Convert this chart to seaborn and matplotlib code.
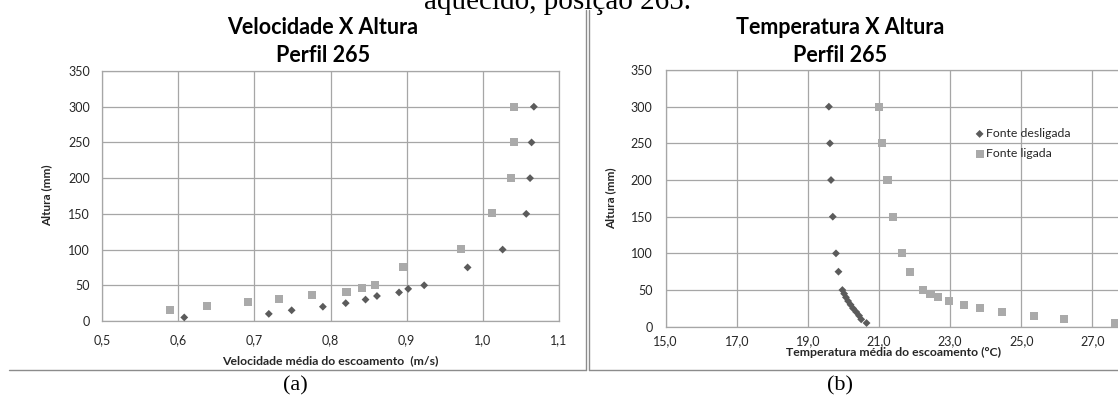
import matplotlib
matplotlib.use("Agg")
import matplotlib.pyplot as plt
import seaborn as sns
import pandas as pd
from matplotlib.lines import Line2D

# ---------------- data ----------------
alturas = [5, 10, 15, 20, 25, 30, 35, 40, 45, 50, 75, 100, 150, 200, 250, 300]
vel_desligada = [0.608, 0.719, 0.749, 0.790, 0.820, 0.846, 0.861, 0.890, 0.902,
                 0.923, 0.980, 1.026, 1.057, 1.062, 1.064, 1.067]
alturas_vel_ligada = [16, 21, 26, 31, 36, 41, 46, 51, 75, 101, 151, 200, 250, 300]
vel_ligada = [0.589, 0.638, 0.692, 0.732, 0.776, 0.821, 0.841, 0.858, 0.895,
              0.971, 1.012, 1.037, 1.041, 1.041]

temp_desligada = [20.65, 20.50, 20.44, 20.36, 20.27, 20.20, 20.13, 20.07, 20.02,
                  19.97, 19.86, 19.79, 19.70, 19.65, 19.62, 19.59]
temp_ligada = [27.64, 26.21, 25.35, 24.45, 23.84, 23.39, 22.97, 22.67, 22.45,
               22.23, 21.87, 21.65, 21.40, 21.24, 21.09, 21.01]

series = ["Fonte desligada", "Fonte ligada"]
vel_ticks = [0.5, 0.6, 0.7, 0.8, 0.9, 1.0, 1.1]
vel_ticklabels = ["0,5", "0,6", "0,7", "0,8", "0,9", "1,0", "1,1"]
temp_ticks = [15, 17, 19, 21, 23, 25, 27, 29]
temp_ticklabels = ["15,0", "17,0", "19,0", "21,0", "23,0", "25,0", "27,0", "29,0"]
alt_ticks = [0, 50, 100, 150, 200, 250, 300, 350]

# ---------------- style ----------------
sns.set_style("white")
plt.rcParams["font.family"] = ["Lato", "DejaVu Sans"]

W, H = 1118, 403
fig = plt.figure(figsize=(W / 100, H / 100), dpi=100)

def fx(x):
    return x / W

def fy(y):
    return 1 - y / H

DARK = "#5b5b5b"
LIGHT = "#aaaaaa"
GRID = "#a6a6a6"
TXT = "#262626"
SERIF = ["Liberation Serif", "DejaVu Serif"]

ax1 = fig.add_axes([fx(102), fy(321), fx(559) - fx(102), (321 - 71) / H])
ax2 = fig.add_axes([fx(665.7), fy(326.7), 14 * 35.55 / W, (326.7 - 70) / H])

df_v1 = pd.DataFrame({"x": vel_desligada, "y": alturas})
df_v2 = pd.DataFrame({"x": vel_ligada, "y": alturas_vel_ligada})
df_t1 = pd.DataFrame({"x": temp_desligada, "y": alturas})
df_t2 = pd.DataFrame({"x": temp_ligada, "y": alturas})

for ax, d1, d2 in [(ax1, df_v1, df_v2), (ax2, df_t1, df_t2)]:
    sns.scatterplot(data=d2, x="x", y="y", ax=ax, marker="s", s=34, color=LIGHT,
                    edgecolor="none", label=series[1], zorder=3, clip_on=False)
    sns.scatterplot(data=d1, x="x", y="y", ax=ax, marker="D", s=16, color=DARK,
                    edgecolor="none", label=series[0], zorder=4, clip_on=False)
    ax.set_ylim(0, 350)
    ax.set_yticks(alt_ticks)
    ax.set_yticklabels([str(t) for t in alt_ticks])
    ax.grid(True, color=GRID, linewidth=0.9)
    ax.set_axisbelow(True)
    for sp in ax.spines.values():
        sp.set_color(GRID)
        sp.set_linewidth(0.9)
    ax.tick_params(length=0, labelsize=9, colors=TXT)
    ax.set_ylabel("Altura (mm)", fontsize=8.5, fontweight="bold", color=TXT)

ax1.set_xlim(0.5, 1.1)
ax1.set_xticks(vel_ticks)
ax1.set_xticklabels(vel_ticklabels)
ax1.legend().remove()
ax1.tick_params(axis="x", pad=9.5)
ax1.tick_params(axis="y", pad=8.5)
ax1.set_xlabel("Velocidade média do escoamento  (m/s)", fontsize=8.8,
               fontweight="bold", color=TXT)
ax1.xaxis.set_label_coords(0.499, -0.136)
ax1.yaxis.set_label_coords(-0.108, 0.504)

ax2.set_xlim(15, 29)
ax2.set_xticks(temp_ticks)
ax2.set_xticklabels(temp_ticklabels)
ax2.tick_params(axis="x", pad=6)
ax2.tick_params(axis="y", pad=9.4)
ax2.set_xlabel("Temperatura média do escoamento (°C)", fontsize=8.8,
               fontweight="bold", color=TXT)
ax2.xaxis.set_label_coords((894 - 665.7) / (14 * 35.55), -0.077)
ax2.yaxis.set_label_coords(-0.0999, 0.501)

h, l = ax2.get_legend_handles_labels()
order = [l.index(series[0]), l.index(series[1])]
ax2.legend([h[i] for i in order], [l[i] for i in order], loc="upper left",
           bbox_to_anchor=(fx(968), fy(122)), bbox_transform=fig.transFigure,
           frameon=False, fontsize=8.8, handletextpad=0.1, handlelength=0.9,
           labelspacing=0.75, borderpad=0, labelcolor=TXT)

# titles
for cx, t in [(323, "Velocidade X Altura"), (840, "Temperatura X Altura")]:
    fig.text(fx(cx), fy(28), t, ha="center", va="center", fontsize=15.5,
             fontweight="bold", color="black")
    fig.text(fx(cx), fy(55), "Perfil 265", ha="center", va="center", fontsize=15.5,
             fontweight="bold", color="black")

# document text (cut off at the top, as in the page screenshot)
fig.text(fx(558), fy(9), "aquecido, posição 265.", ha="center", va="baseline",
         fontsize=21, family=SERIF, color="black")
fig.text(fx(295), fy(386), "(a)", ha="center", va="center", fontsize=16,
         family=SERIF, color="black")
fig.text(fx(840), fy(386), "(b)", ha="center", va="center", fontsize=16,
         family=SERIF, color="black")

# chart frames
BORDER = "#8c8c8c"
for xs, ys in [([9, 586], [370, 370]), ([589, 1118], [370, 370]),
               ([586, 586], [10, 370]), ([589, 589], [10, 370])]:
    fig.add_artist(Line2D([fx(v) for v in xs], [fy(v) for v in ys],
                          transform=fig.transFigure, color=BORDER, linewidth=1))

fig.savefig("out.png", dpi=100)
